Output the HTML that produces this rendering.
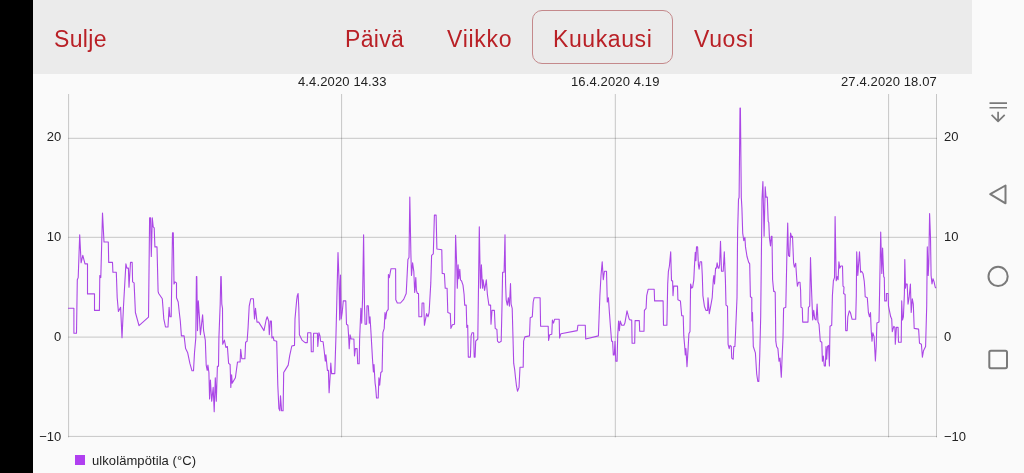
<!DOCTYPE html>
<html lang="fi"><head><meta charset="utf-8"><title>ulkolämpötila</title>
<style>
html,body{margin:0;padding:0;}
body{width:1024px;height:473px;overflow:hidden;background:#fafafa;position:relative;font-family:"Liberation Sans",sans-serif;}
.black{position:absolute;left:0;top:0;width:33px;height:473px;background:#000;}
.hdr{position:absolute;left:33px;top:0;width:939px;height:74px;background:#ebebeb;}
.tab,.lbl{will-change:transform;}
.tab{position:absolute;top:25px;font-size:23px;line-height:28px;color:#b92026;white-space:nowrap;}
.sel{position:absolute;left:532px;top:10px;width:139px;height:52px;border:1px solid #c4898b;border-radius:10px;}
.lbl{position:absolute;font-size:13px;line-height:14px;color:#222;white-space:nowrap;}
.yl{width:28.2px;left:33px;text-align:right;}
.yr{left:943.5px;}
.dt{top:74.5px;letter-spacing:.13px;}
svg{position:absolute;left:0;top:0;}
.leg{position:absolute;left:75px;top:455px;width:10px;height:10px;background:#b040f0;}
</style></head><body>
<div class="black"></div>
<div class="hdr"></div>
<div class="sel"></div>
<div class="tab" style="left:53.5px;letter-spacing:.35px">Sulje</div>
<div class="tab" style="left:345.2px;letter-spacing:.3px">Päivä</div>
<div class="tab" style="left:447.4px;letter-spacing:.7px">Viikko</div>
<div class="tab" style="left:552.9px;letter-spacing:.6px">Kuukausi</div>
<div class="tab" style="left:694.3px;letter-spacing:.65px">Vuosi</div>
<div class="lbl dt" style="left:298px">4.4.2020 14.33</div>
<div class="lbl dt" style="left:571.4px">16.4.2020 4.19</div>
<div class="lbl dt" style="left:840.6px">27.4.2020 18.07</div>
<div class="lbl yl" style="top:130.3px">20</div>
<div class="lbl yl" style="top:229.7px">10</div>
<div class="lbl yl" style="top:329.6px">0</div>
<div class="lbl yl" style="top:430.2px">−10</div>
<div class="lbl yr" style="top:130.3px">20</div>
<div class="lbl yr" style="top:229.7px">10</div>
<div class="lbl yr" style="top:329.6px">0</div>
<div class="lbl yr" style="top:430.2px">−10</div>
<svg width="1024" height="473" viewBox="0 0 1024 473">
<g stroke="#000" stroke-opacity="0.23" stroke-width="0.9" fill="none">
<path d="M68.6 94V437.4M936.5 94V437.4M341.6 94V437.4M615.3 94V437.4M888.6 94V437.4"/>
<path d="M68.2 138.3H937M68.2 237.3H937M68.2 337.1H937M68.2 436.4H937"/>
</g>
<polyline fill="none" stroke="#ab47e6" stroke-width="1.1" stroke-linejoin="round" points="68,308.3 73.9,308.3 73.9,333.3 76.5,333.3 77.3,279.8 78.2,277.6 79.7,234.8 81.1,262.8 82.8,255.4 85,263.9 87.5,263.9 87.5,293.9 94.5,293.9 94.5,310.4 99.4,310.4 99.8,275.5 100.8,277.6 102.5,213 104,242 108.3,242 108.7,262.4 112.5,262.4 112.9,272.3 116.3,272.3 117.2,297.7 118.4,311.5 120.6,307.3 122,337.6 123.5,306.2 125.9,263.9 126.9,268.1 128.4,268.1 129,287.2 130.5,262.4 132.2,262.4 132.6,281.9 134.1,282.9 135.4,312.5 139,325.7 148.5,317.2 149.6,217.9 150.6,217.9 151.3,256.5 152.3,217.9 153.2,226.8 154.2,227.8 154.9,246.9 157,246.9 158.1,291.4 158.7,293.5 162.3,298.8 163.8,318.9 165.5,327 168,327 169.1,307.3 169.9,316.8 171.2,316.8 172.5,232.7 173.3,232.7 174,284 175,281.9 176.5,282.9 176.5,297.7 178.2,302 179.3,312.5 180.3,321 181.4,335.9 184.1,335.9 185.6,348.6 187.7,352.8 189.9,363.4 192,370.8 193.5,370.8 194.5,352.8 195.8,338 196.4,276.6 196.8,276.6 197.5,330.6 198.3,300.9 199.4,316.8 200.4,334.8 202.6,314.7 203.6,330.6 205.3,340.1 206.2,365.1 207.2,370.4 207.9,365.1 208.9,372.5 209.6,399 210.4,380 211.7,401.2 213.2,387.4 214.2,411.8 215.3,377.8 216.3,401.2 217.4,366.2 218.5,366.2 218.9,338 220.2,304.1 220.8,276.6 221.2,276.6 221.8,304.1 222.5,308.3 222.7,344.3 224.4,340.1 225.9,347.5 227.4,346.5 228.6,363.4 230.1,364.5 230.8,387.4 231.6,374.7 232.2,383.1 235.4,377.8 237.5,362 240.1,362 240.7,349.2 241.8,358.8 244.9,358.8 245.6,342.2 247.1,341.2 248.1,327.4 249.2,306.2 250.7,298.8 253.4,298.8 254.5,318.9 255.5,308.3 257,322.1 258.7,322.1 264,330.6 266.1,320 267.2,316.8 268.7,321 269.3,334.8 270.4,321 271.4,321 271.9,338 273.1,336.9 274,340.5 276.7,341.2 277.8,385.3 278.9,408.6 279.9,410.7 280.5,395.9 281.6,410.7 283.1,410.7 283.7,372.5 285,370.4 288.2,365.1 289.7,355.6 290.3,352.8 291.8,346 294.5,345.4 295,318.9 296.7,299.8 297.3,295.6 298.1,293.5 298.8,308.3 299.4,334.8 302,340.1 305.1,342.6 307.3,342.6 307.7,332.7 310.9,332.7 311.3,351.8 313.2,351.8 313.6,333.3 317.4,333.3 317.8,346.5 318.9,332.7 320,335.9 320.6,341.2 323.1,341.8 324.2,350.7 325.3,361.3 325.9,354.9 327.4,370.4 328.4,370.4 329.1,392.7 330.1,376.8 330.8,363 331.6,373.6 334.8,373.6 335.4,353.5 335.9,338 336.9,297.7 338,252.6 339,279.8 339.7,320 340.5,275.1 341.2,318.9 342.2,312.5 343.3,300.9 345.8,300.9 346.5,324.2 347.9,325.3 348.6,335.9 349.2,348.6 350.1,334.8 351.1,339 353.9,339 354.5,356 355.4,348.6 357.1,348.6 357.7,363.8 359.2,363.8 359.6,340.1 360.9,308.3 361.7,323.1 362.6,297.7 363.6,234.8 364.5,306.2 365.1,324.2 366.6,324.2 367,305.8 368.3,305.8 369.3,323.1 370,316.8 370.8,329.5 371.9,348.6 372.5,359.2 373.4,371.9 374,364.5 375.1,383.1 375.7,387.4 376.5,398 378.2,398 378.9,377.8 379.7,385.3 380.8,372.5 382.1,371.5 382.9,332.7 384.2,328.4 385,312.5 385.7,318.9 386.7,311.5 388.2,309.4 388.4,274.5 389.3,277.6 389.9,274.5 391,268.7 395.6,268.7 395.8,299.8 397.3,303 400.5,303 403.7,299.4 406.2,293.5 406.9,279.8 407.9,259.6 409,257.5 409.8,197.1 410.9,254.3 411.5,275.5 412.6,262.8 413.8,271.3 414.7,292.5 415.8,277.6 416.4,290.4 417.4,293.5 418.5,293.5 418.9,316.8 421.7,316.8 422.1,303 423.8,303 424.4,325.3 426.6,313.6 428,316.8 429.1,312.5 430.8,282.9 431.6,255.4 433.3,253.9 434.4,215.1 436.1,215.1 436.9,249 441.8,249.7 442.2,273.4 444.4,273.8 445.2,288.2 447.1,288.2 447.8,312.5 450.3,313.6 450.9,328.4 452.4,324.8 454.5,324.2 455.6,235.3 456.7,264.9 457.3,288.2 458.1,264.9 458.8,278.7 459.8,269.2 460.5,279.8 461.5,280.8 463,285.1 464.1,294.5 464.7,305.1 466.2,305.1 466.8,327.4 467.7,325.3 468.3,357.1 470.4,357.1 471.1,335.9 472.1,332.7 473.6,332.7 474.2,357.1 475.1,357.1 475.7,341.2 477.8,339 479.3,226.8 480.4,288.2 481.4,264.9 482.5,288.2 483.1,279.8 484.6,290.4 486.3,279.8 487.4,294.5 488.9,305.1 490.6,305.1 491,324.2 492,310.4 494.4,310.4 495.2,328.4 496.9,329.5 497.5,341.2 499,342.6 501.2,341.2 502,306.2 502.6,272.3 504.1,272.3 505,234.8 505.6,284 506.2,299.8 507.3,305.1 508.4,297.7 509.4,306.2 510.5,283.6 511.1,304.1 512.2,308.3 513,338 513.7,363.4 514.7,369.8 515.4,376.8 516.4,385.3 517.5,391.2 519,387.4 520,367.3 523.2,367.3 523.6,341.2 524.9,336.9 529.5,335.9 530.2,317.8 532.3,316.8 533.2,302 534.2,297.7 540.1,297.7 540.6,326.3 548.2,326.3 548.6,340.5 549.7,334.8 551.8,334.2 552.4,320 553.5,323.1 554.6,319.3 559.2,319.3 559.6,338 560.9,333.7 577.2,330.6 577.9,325.3 585.3,325.3 585.7,339 598.4,335.9 599.1,316.8 599.9,295.6 601,275.5 602.2,261.8 603.3,279.8 604.4,271.3 606.5,271.3 607.3,302 608.4,297.7 609.4,312.5 610.5,327.4 611.6,341.2 612.6,341.2 613.3,354.9 614.3,354.9 615,341.2 615.8,361.3 617.1,361.3 617.7,335.9 618.6,321 619.4,330.6 620.2,321 621.7,325.3 623.9,325.3 624.9,323.1 627,310.9 629.1,318.9 630.2,320 631.7,320 632.1,343.3 634.7,343.3 635.1,320.6 639.3,320.6 639.7,331.2 644,331.2 644.4,310.4 646.1,308.3 646.7,295.6 648.2,289.2 654.2,289.2 654.6,300.9 663.1,300.9 663.5,325.3 666.9,325.3 667.7,284 668.4,271.3 669.4,266 670.7,251.8 671.5,280.8 672.6,280.8 673,295.6 673.7,286.1 677.5,286.1 677.9,299.8 680.4,300.9 681.7,315.7 683.2,315.7 683.8,335.9 684.7,346.5 685.3,354.9 685.9,348.6 687,366.6 688.1,348.6 688.9,333.7 690,331.6 690.6,284 691.7,288.2 692.7,287.2 693.8,279.8 694.4,267.1 695.3,252.2 695.9,260.7 696.5,246.9 697.6,246.9 698.4,264.9 699.1,269.2 700.1,261.8 701.6,261.8 702.3,275.5 702.9,295.6 704.4,306.2 705.9,310.4 707.6,310.4 708,297.7 709.3,313.6 710.7,306.2 712.2,297.7 713.3,279.8 713.9,275.5 714.5,284 715.6,268.1 716.5,268.1 717.1,262.8 718.2,268.1 719,268.1 719.6,264.9 720.5,241.2 721.5,271.3 723.2,271.3 724.3,251.8 725.4,279.8 726,305.1 727.5,306.2 728.1,344.3 729.2,348.6 730,345.4 731.3,346.5 731.7,358.1 733.2,359.2 733.8,346.5 734.9,346.5 735.5,333.7 737,297.7 737.6,233.1 738.5,199.2 739.1,197.5 740,108.1 740.4,108.1 741.3,197.5 741.9,207.7 742.7,233.1 743.8,240.6 744.9,237.4 745.5,246.9 747,256.5 748.7,262.4 749.7,263.9 750.4,296.7 751.8,297.7 751.8,321 752.5,312.5 753.3,346.5 755.4,352.8 756.7,374 757.8,381.4 758.8,381.4 759.7,357.1 760.7,316.8 762,199.2 762.9,181.6 764.1,236.3 765.2,186.9 766,197.1 767.3,197.1 768.2,221.5 768.8,222.5 769.4,237.4 770.5,245.9 771.3,236.3 772,236.3 772.6,279.8 773.7,291.4 774.5,291.4 775.2,292.4 775.8,341.2 776.6,346.5 777.9,348.6 779,361.3 780,358.1 781.3,377.2 782.2,354.9 783,338 783.6,308.3 785.8,307.3 786.8,258.6 787.7,223 788.5,255.4 789.6,256.5 790.6,233.1 791.7,237.4 792.5,236.3 793.6,262.8 794.4,267.1 795.7,263.2 796.8,279.8 797.4,286.1 798.5,282.3 800,282.3 800.6,290.3 801,307.3 802.3,307.9 802.7,322.1 808,322.1 808.4,307.3 809.7,306.2 810.5,257.5 811.6,291.4 812.7,320 813.7,310.4 814.8,318.9 816.1,320 817.1,304.1 818,322.1 819,324.2 820.3,341.2 821.8,342.2 822.4,361.3 823.3,356 824.3,366 825.4,366 826,346.5 826.7,359.2 827.5,346.5 828.6,345.4 829.4,366 830,326.3 831.7,325.3 832.4,295.6 833.4,280.8 834.5,277.6 835.1,216.6 836.2,280.8 837.2,276.6 838.1,279.8 838.9,261.8 839.8,268.1 840.9,266 842.5,266 843,286.1 844,287.2 843.6,293.5 845.1,294.5 845.7,330.6 847.2,330.6 847.8,316.8 849.3,310.9 850.4,312.5 852.1,319.3 855.7,319.3 856.3,295.6 856.7,251.8 857.8,275.5 859.5,251.8 860.6,272.3 861.6,271.3 863.1,273.8 864.2,280.8 864.8,288.2 865.2,296.7 867.3,297.7 868.4,312.5 869.5,316.8 870.5,312.5 871.2,330.6 872,341.2 872.8,332.7 874.1,336.9 875.4,360.9 876.2,346.5 876.9,323.1 879,322.1 879.6,291.4 880.7,232.1 881.8,273.4 882.6,248 883.7,276.6 884.3,277.6 884.7,300.9 886.4,300.9 886.4,293.5 888.1,293.5 888.5,306.2 890.7,316.8 891.7,318.9 892.3,331.6 893.8,326.3 894.9,327.4 895.3,344.3 896.4,327.4 898.1,327.4 898.5,342.2 901.2,342.2 901.7,300.9 902.5,320 903.4,316.8 904.4,293.5 904.8,259.6 905.5,288.2 906.1,284 907.2,284 908,304.1 909.1,297.7 910.4,284 911.2,312.5 912.3,298.8 913.3,304.1 914.2,328.4 918.6,329.1 919.5,343.3 921.4,344.3 922.4,357.1 923.5,350.7 925.6,346.5 926.7,306.2 927.3,246.9 928.2,275.5 928.8,262.8 929.6,213.6 930.5,237.4 931.1,275.5 932,284 933,278.7 934.1,281.9 935.2,287.2 936,288.2"/>
<g stroke="#7a7a7a" stroke-width="2" fill="none" stroke-linecap="round" stroke-linejoin="round">
<path d="M989.5 103.1H1007M989.5 107.8H1007" stroke-linecap="butt" stroke-width="1.6"/>
<path d="M998.1 111.8V121.3M991.6 114.8L998.1 121.3L1004.7 114.8" stroke-linecap="butt" stroke-width="1.7"/>
<path d="M990.2 194.2L1005.5 185.5V203.3Z"/>
<circle cx="998.1" cy="276.4" r="9.6"/>
<rect x="989.3" y="350.7" width="17.7" height="17.5" rx="1.6"/>
</g>
</svg>
<div class="leg"></div>
<div class="lbl" style="left:92px;top:453.6px;letter-spacing:.08px">ulkolämpötila (°C)</div>
</body></html>
